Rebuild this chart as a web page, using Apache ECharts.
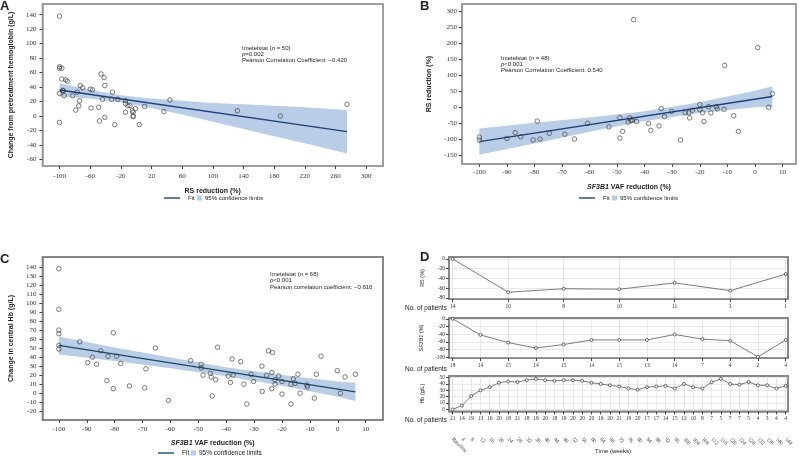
<!DOCTYPE html>
<html lang="en">
<head>
    <meta charset="UTF-8">
    <title>Imetelstat correlations</title>
    <script src="https://cdn.jsdelivr.net/npm/echarts@6/dist/echarts.min.js"></script>
    <style>
        html, body { margin: 0; padding: 0; background: #fff; }
        #page { position: relative; width: 800px; height: 456px; overflow: hidden; }
        .panel { position: absolute; }
    </style>
</head>
<body>
<div id="page"></div>
<script>
    // ---- panel A: RS reduction vs change in Hb ----
    var aRs = [-100, -100, -100, -97, -97, -92, -90, -100, -96, -95, -94, -100, -83, -77, -79, -75, -74, -73, -70, -60,
        -57, -59, -49, -48, -46, -42, -41, -44, -41, -31, -32, -24, -28, -14, -14, -14, -11, -8, -5, -4,
        -4, -1, 4, 11, 36, 44, 132, 188, 275, -4];
    var aHb = [138, 68, 66, 66, 51, 50, 48, 31, 35, 35, 28, -9, 28, 33, 8, 14, 21, 42, 39, 37,
        36, 11, 12, -7, 58, 53, 42, 23, -2, 33, 23, 23, -12, 21, 17, 5, 14, 14, 7, 0,
        -1, 10, -12, 13, 6, 22, 7, 0, 16, 5];
    var aFitX = [-100, 275];
    var aFitY = [35.9, -21.7];
    var aBandX = [-100, -60, -20, 20, 60, 100, 140, 180, 220, 275];
    var aBandUp = [45, 36, 28.6, 24, 21, 18, 16, 14, 12, 8];
    var aBandLo = [27, 24, 18.6, 11, 2, -8, -18, -28, -38, -52];
    var aXTicks = [-100, -60, -20, 20, 60, 100, 140, 180, 220, 260, 300];
    var aYTicks = [-60, -40, -20, 0, 20, 40, 60, 80, 100, 120, 140];

    // ---- panel B: SF3B1 VAF reduction vs RS reduction ----
    var bVaf = [-44, 1, -11, 6.3, 5, -100, -100, -90, -87, -85, -80.5, -79, -78, -74.6, -69, -65.5, -60.7, -53, -49, -49,
        -48, -45.5, -46, -45, -43, -38.6, -37.8, -34.8, -34, -32.8, -30.2, -27, -25.3, -24, -23.7, -22.7, -20, -20, -19, -18.5,
        -16.8, -16, -14, -13.7, -11.2, -7.7, -6, -44.5];
    var bRs = [274, 187, 131, 43, 0, -93, -102, -97, -79, -92, -102, -43, -99, -81, -84, -99, -50, -61, -32, -96,
        -75, -33, -46, -41, -44, -50, -72, -58, -4, -29, -12.5, -102, -17, -17, -33, -9, 9, -7, -17, -44,
        2, -17, 2, -5, -6, -26, -75, -40];
    var bFitX = [-100, 6.3];
    var bFitY = [-107, 34];
    var bBandX = [-100, -80, -60, -40, -20, 0, 6.3];
    var bBandUp = [-66, -48, -32, -12, 16, 52, 66];
    var bBandLo = [-148, -113, -76, -43, -18, 0, 2];
    var bXTicks = [-100, -90, -80, -70, -60, -50, -40, -30, -20, -10, 0, 10];
    var bYTicks = [-150, -100, -50, 0, 50, 100, 150, 200, 250, 300];

    // ---- panel C: SF3B1 VAF reduction vs change in central Hb ----
    var cVaf = [-100, -100, -100, -100, -100, -100, -92.5, -89.7, -88, -86.5, -85, -82.8, -82.4, -80.5, -80.5, -79.3, -77.8,
        -74.7, -69.2, -68.8, -65.4, -60.7, -52.8, -49, -48.9, -48.3, -45.7, -45.4, -45, -43.8, -43.1, -39.3, -38.5,
        -37.9, -37.5, -34.8, -33.7, -32.6, -31.1, -30.2, -27.2, -27.1, -25.5, -24.9, -23.7, -23.4, -23.6, -22.5,
        -22.5, -21.2, -20, -20, -16.8, -16.8, -15.9, -15.3, -14.3, -13.5, -11.1, -10.9, -8.4, -7.7, -6, -0.2,
        0.9, 2.6, 6.3];
    var cHb = [138, 93, 70, 66, 53, 49, 57, 34, 40, 32, 47, 14, 41, 67, 5, 41, 33,
        8, 6, 27, 50, -8, 36, 32, 28, 20, 22, 18, -3, 15, 51, 19, 12,
        38, 20, 35, 10, -12, 21, 13, 30, 2, 20, 47, 5, 45, 23, 15,
        10, 19, 13, -1, -12, 10, 16, 11, 21, 0, 9, 7, -5.5, 21, 41, 25,
        0, 18, 21];
    var cFitX = [-100, 6.3];
    var cFitY = [53, 1.5];
    var cBandX = [-100, -80, -60, -40, -20, 0, 6.3];
    var cBandUp = [63, 50.8, 39.6, 28.9, 20.2, 13, 11.5];
    var cBandLo = [43, 35.8, 27.6, 18.9, 8.2, -4, -8.5];
    var cXTicks = [-100, -90, -80, -70, -60, -50, -40, -30, -20, -10, 0, 10];
    var cYTicks = [-20, -10, 0, 10, 20, 30, 40, 50, 60, 70, 80, 90, 100, 110, 120, 130, 140];

    // ---- panel D: time courses ----
    var dRsWeeks = [0, 24, 48, 72, 96, 120, 144];
    var dRs = [0, -68, -61, -62, -49, -65, -31];
    var dRsN = [14, 10, 8, 10, 11, 3, 1];
    var dVafWeeks = [0, 12, 24, 36, 48, 60, 72, 84, 96, 108, 120, 132, 144];
    var dVaf = [0, -42, -62, -76, -67, -55, -55, -55, -41, -53, -57, -99, -55];
    var dVafN = [18, 14, 15, 14, 15, 14, 15, 13, 14, 7, 4, 2, 4];
    var dHbWeeks = [0, 4, 8, 12, 16, 20, 24, 28, 32, 36, 40, 44, 48, 52, 56, 60, 64, 68, 72, 76, 80, 84, 88, 92, 96,
        100, 104, 108, 112, 116, 120, 124, 128, 132, 136, 140, 144];
    var dHb = [0, 6, 21, 30, 35, 42, 44, 43, 46, 48, 46, 45, 46, 46, 45, 42, 40, 38, 36, 33, 31, 35, 36, 37, 33,
        40, 35, 33, 43, 48, 40, 39, 43, 38, 38, 33, 37];
    var dHbN = [21, 14, 19, 13, 16, 20, 18, 21, 18, 18, 20, 18, 19, 20, 20, 20, 16, 20, 21, 19, 20, 17, 17, 14, 15,
        12, 10, 8, 7, 5, 7, 7, 5, 4, 3, 4, 4];
    var dRsTicks = [-80, -60, -40, -20, 0];
    var dVafTicks = [-100, -80, -60, -40, -20, 0];
    var dHbTicks = [0, 10, 20, 30, 40, 50];

    var SERIF = 'Liberation Serif';
    var SANS = 'Liberation Sans';
    var BAND = '#b9cde6';
    var DX = [-1.6, 145];

    // one chart per panel: [left, top, width, height] on the page
    var PA = [0, 0, 400, 228], PB = [400, 0, 400, 228], PC = [0, 228, 400, 228];
    var PD1 = [400, 228, 400, 84], PD2 = [400, 312, 400, 61], PD3 = [400, 373, 400, 83];

    function pairs(xs, ys) {
        return xs.map(function (x, i) { return [x, ys[i]]; });
    }

    function place(P) {
        var d = document.createElement('div');
        d.className = 'panel';
        d.style.left = P[0] + 'px'; d.style.top = P[1] + 'px';
        d.style.width = P[2] + 'px'; d.style.height = P[3] + 'px';
        document.getElementById('page').appendChild(d);
        return echarts.init(d);
    }

    // plot box given in page pixels
    function box(P, l, t, w, h, c) {
        return {left: l - P[0], top: t - P[1], width: w, height: h, show: true, borderColor: c, borderWidth: 1.5};
    }

    function axis(min, max, vals, o) {
        o = o || {};
        return {
            type: 'value', min: min, max: max,
            position: o.pos, offset: o.offset || 0,
            axisLine: {show: !!o.lc, onZero: false, lineStyle: {color: o.lc || '#999', width: 1.5}},
            axisTick: {show: o.tick !== false, customValues: vals, length: 3, lineStyle: {color: '#444', width: 1}},
            axisLabel: {
                customValues: vals, margin: o.margin || 6, fontFamily: SERIF, fontSize: o.fs || 7,
                color: '#333', formatter: o.fmt, rotate: o.rot || 0
            },
            splitLine: {show: !!o.split, lineStyle: {color: '#e2e2e2', width: 0.8}},
            name: o.name || '', nameLocation: 'middle', nameGap: o.gap || 20,
            nameTextStyle: {
                fontFamily: SANS, fontSize: o.nfs || 7, fontWeight: o.nw || 'bold', color: '#222',
                rich: {i: {fontFamily: SANS, fontSize: o.nfs || 7, fontWeight: o.nw || 'bold', fontStyle: 'italic', color: '#222'}}
            }
        };
    }

    // bare axis line used as the top or right side of a plot frame
    function edge(min, max, pos, color) {
        return {
            type: 'value', min: min, max: max, position: pos,
            axisLine: {show: true, onZero: false, lineStyle: {color: color, width: 1.5}},
            axisTick: {show: false}, axisLabel: {show: false}, splitLine: {show: false}
        };
    }

    function band(xs, up, lo) {
        return {
            type: 'custom', silent: true, z: 1,
            data: [[xs[0], up[0]]],
            renderItem: function (params, api) {
                var pts = [], i;
                for (i = 0; i < xs.length; i++) pts.push(api.coord([xs[i], up[i]]));
                for (i = xs.length - 1; i >= 0; i--) pts.push(api.coord([xs[i], lo[i]]));
                return {type: 'polygon', shape: {points: pts}, style: {fill: BAND}};
            }
        };
    }

    function fit(xs, ys, color) {
        return {type: 'line', data: pairs(xs, ys), showSymbol: false, z: 2, silent: true,
            lineStyle: {color: color, width: 1.4}};
    }

    function dots(xs, ys) {
        return {
            type: 'scatter', data: pairs(xs, ys), z: 3, symbol: 'circle', symbolSize: 4.5,
            itemStyle: {color: 'rgba(255,255,255,0)', borderColor: '#333', borderWidth: 0.8}
        };
    }

    function trend(xs, ys) {
        return {
            type: 'line', data: pairs(xs, ys), z: 3, symbol: 'circle', symbolSize: 3,
            lineStyle: {color: '#444', width: 0.7},
            itemStyle: {color: '#fff', borderColor: '#333', borderWidth: 0.7}
        };
    }

    // text placed in page pixels
    function txt(P, x, y, s, o) {
        o = o || {};
        var st = {
            text: s, fill: '#222', align: o.align || 'left', verticalAlign: o.va || 'middle',
            font: (o.weight || 'normal') + ' ' + (o.size || 6) + 'px ' + SANS
        };
        if (o.lh) st.lineHeight = o.lh;
        if (o.rich) st.rich = o.rich;
        return {type: 'text', x: x - P[0], y: y - P[1], silent: true, style: st};
    }

    function legend(P, x0, y, color, size) {
        var x = x0 - P[0], yy = y - P[1];
        return [
            {type: 'line', silent: true, shape: {x1: x, y1: yy, x2: x + 16, y2: yy}, style: {stroke: color, lineWidth: 1.4}},
            txt(P, x0 + 24, y, 'Fit', {size: size}),
            {type: 'rect', silent: true, shape: {x: x + 33, y: yy - 2.5, width: 5, height: 5}, style: {fill: BAND}},
            txt(P, x0 + 41, y, '95% confidence limits', {size: size})
        ];
    }

    var italic = {i: {fontStyle: 'italic', fontSize: 6, fontFamily: SANS, fill: '#222'}};

    function nIdx(weeks, counts) {
        return function (v) { var k = weeks.indexOf(v); return k < 0 ? '' : String(counts[k]); };
    }

    // A
    place(PA).setOption({
        animation: false,
        grid: box(PA, 40, 4, 343, 162, '#999'),
        xAxis: [axis(-122.4, 322, aXTicks, {pos: 'bottom', lc: '#999', margin: 7, name: 'RS reduction (%)', gap: 22}),
            edge(-122.4, 322, 'top', '#999')],
        yAxis: [axis(-69.3, 154.8, aYTicks, {pos: 'left', lc: '#999', margin: 6, name: 'Change from pretreatment hemoglobin (g/L)', gap: 27}),
            edge(-69.3, 154.8, 'right', '#999')],
        series: [band(aBandX, aBandUp, aBandLo), fit(aFitX, aFitY, '#203f78'), dots(aRs, aHb)],
        graphic: [
            txt(PA, 0, 6, 'A', {size: 13, weight: 'bold'}),
            txt(PA, 242, 45, 'Imetelstat ({i|n} = 50)\n{i|p}=0.002\nPearson Correlation Coefficient: \u22120.420',
                {va: 'top', lh: 6, rich: italic})
        ].concat(legend(PA, 164, 198, '#203f78', 6))
    });

    // B
    place(PB).setOption({
        animation: false,
        grid: box(PB, 462, 4, 334, 160, '#999'),
        xAxis: [axis(-106.3, 14.9, bXTicks, {pos: 'bottom', lc: '#999', margin: 5, name: '{i|SF3B1} VAF reduction (%)', gap: 20}),
            edge(-106.3, 14.9, 'top', '#999')],
        yAxis: [axis(-177, 323, bYTicks, {pos: 'left', lc: '#999', margin: 5, name: 'RS reduction (%)', gap: 29}),
            edge(-177, 323, 'right', '#999')],
        series: [band(bBandX, bBandUp, bBandLo), fit(bFitX, bFitY, '#203f78'), dots(bVaf, bRs)],
        graphic: [
            txt(PB, 420, 6, 'B', {size: 13, weight: 'bold'}),
            txt(PB, 501, 55, 'Imetelstat ({i|n} = 48)\n{i|p}<0.001\nPearson Correlation Coefficient: 0.540',
                {va: 'top', lh: 6, rich: italic})
        ].concat(legend(PB, 579, 198, '#203f78', 6))
    });

    // C
    place(PC).setOption({
        animation: false,
        grid: box(PC, 40, 257, 343, 163, '#808080'),
        xAxis: [axis(-105.9, 16.2, cXTicks, {pos: 'bottom', lc: '#808080', margin: 6, name: '{i|SF3B1} VAF reduction (%)', gap: 20}),
            edge(-105.9, 16.2, 'top', '#808080')],
        yAxis: [axis(-29.7, 151, cYTicks, {pos: 'left', lc: '#808080', margin: 6, name: 'Change in central Hb (g/L)', gap: 26}),
            edge(-29.7, 151, 'right', '#808080')],
        series: [band(cBandX, cBandUp, cBandLo), fit(cFitX, cFitY, '#1b4866'), dots(cVaf, cHb)],
        graphic: [
            txt(PC, 0, 259, 'C', {size: 13, weight: 'bold'}),
            txt(PC, 270, 271, 'Imetelstat ({i|n} = 68)\n{i|p}<0.001\nPearson correlation coefficient: \u22120.616',
                {va: 'top', lh: 6.5, rich: italic})
        ].concat(legend(PC, 158, 453, '#1b4866', 6.5))
    });

    // D, top: RS
    place(PD1).setOption({
        animation: false,
        grid: box(PD1, 449, 257, 339, 42, '#808080'),
        xAxis: [axis(DX[0], DX[1], dRsWeeks, {pos: 'bottom', lc: '#808080', margin: 5, fs: 5.5, split: true, fmt: nIdx(dRsWeeks, dRsN)}),
            edge(DX[0], DX[1], 'top', '#808080')],
        yAxis: [axis(-82, 4, dRsTicks, {pos: 'left', lc: '#808080', margin: 4, fs: 5.5, split: true, name: 'RS (%)', gap: 24, nfs: 5.5, nw: 'normal'}),
            edge(-82, 4, 'right', '#808080')],
        series: [trend(dRsWeeks, dRs)],
        graphic: [
            txt(PD1, 420, 257, 'D', {size: 13, weight: 'bold'}),
            txt(PD1, 405, 308, 'No. of patients', {size: 6.5})
        ]
    });

    // D, middle: SF3B1 VAF
    place(PD2).setOption({
        animation: false,
        grid: box(PD2, 449, 318, 339, 40, '#808080'),
        xAxis: [axis(DX[0], DX[1], dVafWeeks, {pos: 'bottom', lc: '#808080', margin: 5, fs: 5.5, split: true, fmt: nIdx(dVafWeeks, dVafN)}),
            edge(DX[0], DX[1], 'top', '#808080')],
        yAxis: [axis(-102, 2, dVafTicks, {pos: 'left', lc: '#808080', margin: 4, fs: 5.5, split: true, name: '{i|SF3B1} (%)', gap: 24, nfs: 5.5, nw: 'normal'}),
            edge(-102, 2, 'right', '#808080')],
        series: [trend(dVafWeeks, dVaf)],
        graphic: [txt(PD2, 405, 369, 'No. of patients', {size: 6.5})]
    });

    // D, bottom: Hb
    place(PD3).setOption({
        animation: false,
        grid: box(PD3, 449, 376, 339, 36, '#808080'),
        xAxis: [
            axis(DX[0], DX[1], dHbWeeks, {pos: 'bottom', lc: '#808080', margin: 4, fs: 5.5, split: true, fmt: nIdx(dHbWeeks, dHbN)}),
            axis(DX[0], DX[1], dHbWeeks, {pos: 'bottom', margin: 5, fs: 5.5, offset: 22, tick: false, rot: -45,
                fmt: function (v) { return v === 0 ? 'Baseline' : String(v); }}),
            edge(DX[0], DX[1], 'top', '#808080')
        ],
        yAxis: [axis(-3.1, 52.6, dHbTicks, {pos: 'left', lc: '#808080', margin: 4, fs: 5.5, split: true, name: 'Hb (g/L)', gap: 24, nfs: 5.5, nw: 'normal'}),
            edge(-3.1, 52.6, 'right', '#808080')],
        series: [trend(dHbWeeks, dHb)],
        graphic: [
            txt(PD3, 405, 420, 'No. of patients', {size: 6.5}),
            txt(PD3, 613, 451, 'Time (weeks)', {size: 6, align: 'center'})
        ]
    });
</script>
</body>
</html>
